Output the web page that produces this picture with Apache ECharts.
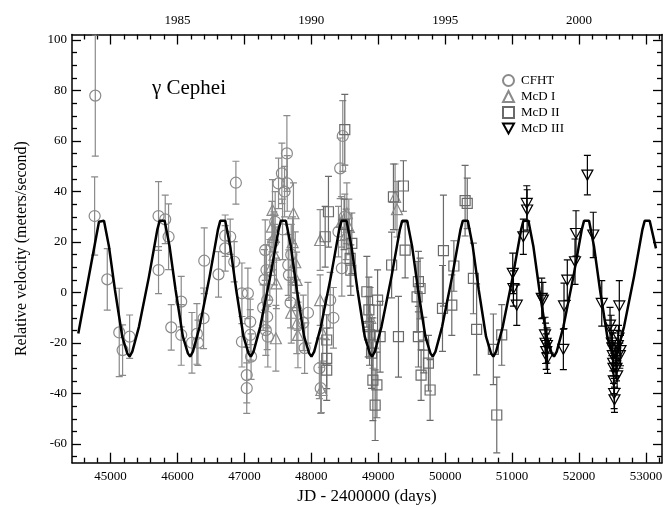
<!DOCTYPE html>
<html><head><meta charset="utf-8">
<script src="https://cdn.jsdelivr.net/npm/echarts@6/dist/echarts.min.js"></script>
<style>html,body{margin:0;padding:0;background:#fff}#c{width:665px;height:507px}</style>
</head><body><div id="c"></div>
<script>
// ---- axis ranges & tick labels ----
const xMin = 44424, xMax = 53240, yMin = -67.4, yMax = 102.2;
const xMajorTicks = [45000, 46000, 47000, 48000, 49000, 50000, 51000, 52000, 53000];
const xMinorTicks = [44600, 44800, 45200, 45400, 45600, 45800, 46200, 46400, 46600, 46800, 47200, 47400, 47600, 47800,
  48200, 48400, 48600, 48800, 49200, 49400, 49600, 49800, 50200, 50400, 50600, 50800, 51200, 51400, 51600, 51800,
  52200, 52400, 52600, 52800, 53200];
const topLabelPositions = [46000, 48000, 50000, 52000];
const topYearLabels = ['1985', '1990', '1995', '2000'];
const yMajorTicks = [-60, -40, -20, 0, 20, 40, 60, 80, 100];
const yMinorTicks = [-65, -55, -50, -45, -35, -30, -25, -15, -10, -5, 5, 10, 15, 25, 30, 35, 45, 50, 55, 65, 70, 75, 85, 90, 95];

// ---- data: [JD-2400000, velocity, error] ----
const cfht = [
  [44772, 78.0, 24], [44762, 30.3, 15.5], [44951, 5.2, 12.2], [45130, -15.8, 17.5], [45180, -22.8, 10], [45285, -17.5, 8.6],
  [45717, 30.3, 13.6], [45717, 8.9, 9.3], [45817, 29.0, 9.6], [45867, 22.1, 13], [45907, -13.8, 9],
  [46056, -3.6, 10], [46056, -16.8, 12], [46216, -19.9, 12], [46290, -16.4, 12], [46306, -19.9, 9], [46390, -10.2, 12], [46400, 12.6, 13],
  [46613, 7.2, 9], [46713, 22.5, 8.2], [46713, 17.5, 9], [46788, 22.1, 7], [46848, 12.2, 8], [46873, 43.5, 8.5],
  [46963, -0.3, 12], [46963, -19.5, 10], [47052, -0.3, 10], [47087, -11.6, 9], [47087, -16.8, 10], [47100, -25.4, 9],
  [47035, -32.7, 11], [47035, -37.9, 10],
  [47300, 5.0, 12], [47311, 16.8, 12], [47330, 8.9, 10], [47340, -3.0, 11], [47340, -9.6, 13], [47320, -14.9, 10],
  [47350, -17.5, 12], [47280, -6.0, 9],
  [47430, 20.0, 11], [47460, 28.0, 12], [47510, 43.2, 10], [47560, 47.2, 12], [47600, 40.0, 10], [47635, 55.1, 15],
  [47640, 43.2, 11], [47570, 25.0, 12], [47655, 10.9, 12], [47665, 6.9, 10], [47700, 15.0, 12], [47690, -4.0, 10],
  [47880, -12.0, 11], [47900, -22.0, 10], [47950, -8.0, 12],
  [48120, -30.0, 12], [48140, -37.9, 10], [48282, -3.0, 11], [48330, -10.0, 12],
  [48406, 24.1, 10], [48431, 49.2, 12], [48456, 9.6, 11], [48470, 62.0, 14], [48500, 30.0, 9]
];
const mcd1 = [
  [47380, 9.0, 12], [47411, 26.1, 10], [47420, 32.7, 12], [47440, 22.0, 10], [47450, 15.0, 12], [47478, 3.6, 10], [47470, -18.1, 13],
  [47700, -8.0, 12], [47720, 20.0, 10], [47733, 31.4, 12], [47760, 12.0, 12], [47780, 5.0, 11], [47783, -12.2, 12], [47790, -5.0, 10], [47800, -16.8, 13],
  [48132, 20.8, 12], [48132, -3.0, 10], [48170, -16.2, 11], [48150, -38.6, 9],
  [48450, 28.0, 10], [48520, 23.0, 10], [48531, 31.4, 12], [48560, 26.0, 11],
  [48880, -10.0, 12], [48920, -20.0, 10], [49252, 37.9, 13], [49280, 33.0, 11]
];
const mcd2 = [
  [48207, 22.1, 12], [48256, 32.0, 14], [48230, -18.8, 10], [48230, -26.1, 12], [48230, -30.7, 12],
  [48500, 64.5, 14], [48490, 27.0, 10], [48580, 13.5, 11], [48605, 19.5, 12], [48590, 8.9, 10],
  [48830, 0.3, 14], [48860, -6.9, 13], [48850, -13.5, 12], [48870, -16.8, 12], [48900, -24.0, 14],
  [48920, -34.7, 16], [48954, -44.6, 14], [48980, -36.6, 13], [48990, -3.0, 12], [49028, -17.5, 14],
  [49200, 10.9, 13], [49227, 37.9, 13], [49302, -17.5, 16], [49376, 42.2, 10], [49402, 16.8, 11],
  [49580, -1.7, 14], [49600, 4.3, 12], [49600, -17.5, 12], [49625, 1.6, 12], [49640, -32.7, 10],
  [49680, -20.8, 11], [49750, -28.0, 11], [49775, -38.6, 12],
  [49960, -6.3, 17], [49974, 16.6, 22], [50099, -5.0, 12], [50130, 10.5, 10],
  [50298, 36.4, 14], [50330, 35.3, 10], [50422, 5.6, 14], [50470, -14.6, 18],
  [50720, -22.5, 14], [50771, -48.5, 15], [50845, -16.8, 12]
];
const mcd3 = [
  [51010, 7.6, 8], [51020, 1.6, 7], [51070, -5.0, 8], [51168, 22.1, 7], [51219, 35.3, 7], [51225, 32.7, 8],
  [51443, -2.3, 8], [51460, -3.0, 7], [51492, -16.8, 7], [51500, -20.1, 8], [51510, -23.4, 7], [51520, -21.0, 7], [51530, -26.0, 6],
  [51766, -22.5, 8], [51776, -5.3, 9], [51825, 4.9, 8], [51940, 12.2, 9], [51955, 23.4, 9],
  [52125, 46.5, 7.8], [52213, 22.8, 9], [52340, -4.3, 9],
  [52463, -12.9, 7], [52480, -15.0, 6], [52490, -20.0, 5], [52500, -22.0, 6], [52505, -25.0, 6], [52510, -28.0, 5],
  [52515, -30.0, 6], [52520, -35.0, 5], [52525, -40.0, 6], [52530, -42.5, 5], [52540, -24.0, 5], [52550, -27.0, 6],
  [52560, -30.0, 5], [52570, -33.0, 5], [52580, -21.0, 6], [52590, -18.0, 5], [52602, -5.3, 10], [52610, -25.0, 5], [52620, -23.0, 6]
];
// orbit fit curve: [JD-2400000, velocity]
const orbit = [
  [44518, -16.2], [44827, 28.0],
  [44902, 28.4], [44977, 18.1], [45066, 1.0], [45175, -17.5], [45250, -24.1], [45284, -25.4], [45325, -23.4], [45425, -13.5], [45574, 6.3], [45698, 24.8], [45733, 28.4],
  [45808, 28.4], [45883, 18.1], [45972, 1.0], [46081, -17.5], [46156, -24.1], [46190, -25.4], [46231, -23.4], [46331, -13.5], [46480, 6.3], [46604, 24.8], [46639, 28.4],
  [46714, 28.4], [46789, 18.1], [46878, 1.0], [46987, -17.5], [47062, -24.1], [47096, -25.4], [47137, -23.4], [47237, -13.5], [47386, 6.3], [47510, 24.8], [47545, 28.4],
  [47620, 28.4], [47695, 18.1], [47784, 1.0], [47893, -17.5], [47968, -24.1], [48002, -25.4], [48043, -23.4], [48143, -13.5], [48292, 6.3], [48416, 24.8], [48451, 28.4],
  [48526, 28.4], [48601, 18.1], [48690, 1.0], [48799, -17.5], [48874, -24.1], [48908, -25.4], [48949, -23.4], [49049, -13.5], [49198, 6.3], [49322, 24.8], [49357, 28.4],
  [49432, 28.4], [49507, 18.1], [49596, 1.0], [49705, -17.5], [49780, -24.1], [49814, -25.4], [49855, -23.4], [49955, -13.5], [50104, 6.3], [50228, 24.8], [50263, 28.4],
  [50338, 28.4], [50413, 18.1], [50502, 1.0], [50611, -17.5], [50686, -24.1], [50720, -25.4], [50761, -23.4], [50861, -13.5], [51010, 6.3], [51134, 24.8], [51169, 28.4],
  [51244, 28.4], [51319, 18.1], [51408, 1.0], [51517, -17.5], [51592, -24.1], [51626, -25.4], [51667, -23.4], [51767, -13.5], [51916, 6.3], [52040, 24.8], [52075, 28.4],
  [52150, 28.4], [52225, 18.1], [52314, 1.0], [52423, -17.5], [52498, -24.1], [52532, -25.4], [52573, -23.4], [52673, -13.5], [52822, 6.3], [52946, 24.8], [52981, 28.4],
  [53056, 28.4], [53150, 17.5]
];
const seriesNames = ['CFHT', 'McD I', 'McD II', 'McD III'];

// ---- chart ----
const FONT = '"Liberation Serif", "DejaVu Serif", serif';
const gray = '#8a8a8a', dgray = '#6a6a6a';
const downTri = 'path://M0,0 L20,0 L10,18 Z';

function errSeries(data, color) {
  return {
    type: 'custom', xAxisIndex: 0, yAxisIndex: 0, clip: true, z: 2, silent: true,
    data: data,
    encode: { x: 0, y: 1 },
    renderItem: function (params, api) {
      const x = api.value(0), v = api.value(1), e = api.value(2);
      const t = api.coord([x, v + e]), b = api.coord([x, v - e]);
      const hw = 3.5;
      const st = { stroke: color, lineWidth: 1.2, fill: null };
      return { type: 'group', children: [
        { type: 'line', shape: { x1: t[0], y1: t[1], x2: b[0], y2: b[1] }, style: st },
        { type: 'line', shape: { x1: t[0] - hw, y1: t[1], x2: t[0] + hw, y2: t[1] }, style: st },
        { type: 'line', shape: { x1: b[0] - hw, y1: b[1], x2: b[0] + hw, y2: b[1] }, style: st }
      ]};
    }
  };
}
function ptSeries(name, data, symbol, size, color) {
  return {
    name: name, type: 'scatter', xAxisIndex: 0, yAxisIndex: 0, z: 3,
    symbol: symbol, symbolSize: size,
    data: data.map(d => [d[0], d[1]]),
    itemStyle: { color: 'rgba(255,255,255,0)', borderColor: color, borderWidth: 1.2, opacity: 1 },
    emphasis: { disabled: true }
  };
}

function xAxisDef(pos, ticks, len, showLine, labels) {
  return {
    type: 'value', position: pos, min: xMin, max: xMax,
    axisLine: { show: showLine, onZero: false, lineStyle: { color: '#000', width: 1.5 } },
    axisTick: { show: true, inside: true, length: len, customValues: ticks, lineStyle: { color: '#000', width: 1.3 } },
    axisLabel: labels || { show: false },
    splitLine: { show: false }
  };
}
function yAxisDef(pos, ticks, len, showLine, labels) {
  return {
    type: 'value', position: pos, min: yMin, max: yMax,
    axisLine: { show: showLine, onZero: false, lineStyle: { color: '#000', width: 1.5 } },
    axisTick: { show: true, inside: true, length: len, customValues: ticks, lineStyle: { color: '#000', width: 1.3 } },
    axisLabel: labels || { show: false },
    splitLine: { show: false }
  };
}

const chart = echarts.init(document.getElementById('c'), null, { renderer: 'canvas' });
const xBottom = xAxisDef('bottom', xMajorTicks, 10, true, {
  show: true, customValues: xMajorTicks, margin: 7, color: '#000', fontFamily: FONT, fontSize: 13,
  formatter: v => String(v)
});
xBottom.name = 'JD - 2400000 (days)';
xBottom.nameLocation = 'middle';
xBottom.nameGap = 25;
xBottom.nameTextStyle = { fontFamily: FONT, fontSize: 17, color: '#000' };
const xTop = xAxisDef('top', xMajorTicks, 10, true, {
  show: true, customValues: topLabelPositions, margin: 7, color: '#000', fontFamily: FONT, fontSize: 13,
  formatter: v => topYearLabels[topLabelPositions.indexOf(v)]
});
const yLeft = yAxisDef('left', yMajorTicks, 9, true, {
  show: true, customValues: yMajorTicks, margin: 5, color: '#000', fontFamily: FONT, fontSize: 13,
  formatter: v => String(v)
});
yLeft.name = 'Relative velocity (meters/second)';
yLeft.nameLocation = 'middle';
yLeft.nameGap = 42;
yLeft.nameTextStyle = { fontFamily: FONT, fontSize: 16, color: '#000' };

chart.setOption({
  animation: false,
  backgroundColor: '#fff',
  grid: { left: 72, right: 3, top: 34.5, bottom: 44.3, containLabel: false, outerBoundsMode: 'none' },
  title: {
    text: 'γ Cephei', left: 147, top: 73,
    textStyle: { fontFamily: FONT, fontSize: 21, fontWeight: 'normal', color: '#000' }
  },
  legend: {
    orient: 'vertical', left: 497, top: 69, itemWidth: 11, itemHeight: 11, itemGap: 3,
    textStyle: { fontFamily: FONT, fontSize: 13, lineHeight: 13, color: '#000', padding: [0, 0, 0, 2] },
    selectedMode: false,
    data: [
      { name: 'CFHT', icon: 'circle' },
      { name: 'McD I', icon: 'triangle' },
      { name: 'McD II', icon: 'rect' },
      { name: 'McD III', icon: downTri }
    ]
  },
  xAxis: [
    xBottom,
    xAxisDef('bottom', xMinorTicks, 5, false),
    xTop,
    xAxisDef('top', xMinorTicks, 5, false)
  ],
  yAxis: [
    yLeft,
    yAxisDef('left', yMinorTicks, 5, false),
    yAxisDef('right', yMajorTicks, 9, true),
    yAxisDef('right', yMinorTicks, 5, false)
  ],
  series: [
    errSeries(cfht, gray),
    errSeries(mcd1, gray),
    errSeries(mcd2, dgray),
    errSeries(mcd3, '#000'),
    ptSeries(seriesNames[0], cfht, 'circle', 11, gray),
    ptSeries(seriesNames[1], mcd1, 'triangle', 11, gray),
    ptSeries(seriesNames[2], mcd2, 'rect', 10, dgray),
    ptSeries(seriesNames[3], mcd3, downTri, [11, 10], '#000'),
    {
      type: 'line', xAxisIndex: 0, yAxisIndex: 0, data: orbit, showSymbol: false, symbol: 'none',
      lineStyle: { color: '#000', width: 2.5 }, z: 5, silent: true, clip: true
    }
  ]
});
</script>
</body></html>
